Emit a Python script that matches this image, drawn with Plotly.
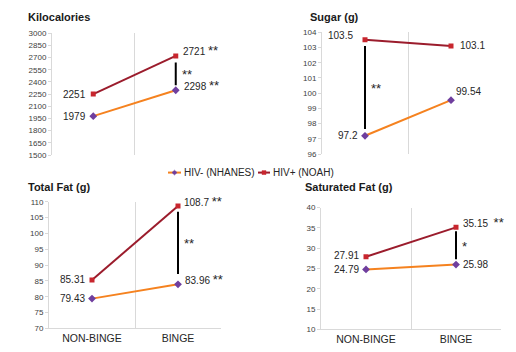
import plotly.graph_objects as go

# ---------------- data ----------------
categories = ["NON-BINGE", "BINGE"]
series_names = ["HIV- (NHANES)", "HIV+ (NOAH)"]

kcal_neg = [1979, 2298]
kcal_pos = [2251, 2721]
sugar_neg = [97.2, 99.54]
sugar_pos = [103.5, 103.1]
tfat_neg = [79.43, 83.96]
tfat_pos = [85.31, 108.7]
sfat_neg = [24.79, 25.98]
sfat_pos = [27.91, 35.15]

panel_titles = ["Kilocalories", "Sugar (g)", "Total Fat (g)", "Saturated Fat (g)"]
kcal_ticks = [1500, 1650, 1800, 1950, 2100, 2250, 2400, 2550, 2700, 2850, 3000]
sugar_ticks = [96, 97, 98, 99, 100, 101, 102, 103, 104]
tfat_ticks = [70, 75, 80, 85, 90, 95, 100, 105, 110]
sfat_ticks = [10, 15, 20, 25, 30, 35, 40]

# significance markers: category index, low, high, label
kcal_sig = (1, 2360, 2640, "**")
sugar_sig = (0, 97.65, 103.1, "**")
tfat_sig = (1, 87.2, 106.9, "**")
sfat_sig = (1, 27.3, 34.2, "*")

# per-point significance suffix for each category
kcal_suffix_neg = ["", "**"]
kcal_suffix_pos = ["", "**"]
sugar_suffix_neg = ["", ""]
sugar_suffix_pos = ["", ""]
tfat_suffix_neg = ["", "**"]
tfat_suffix_pos = ["", "**"]
sfat_suffix_neg = ["", ""]
sfat_suffix_pos = ["", "**"]

# ---------------- style ----------------
NEG_LINE = "#F5821F"
NEG_MARK = "#6F3E9E"
POS_LINE = "#9B1C2C"
POS_MARK = "#C8262E"
GRID = "#D9D9D9"
FONT = "Liberation Sans, Arial, sans-serif"
W, H = 516, 352


def star(s, gap="&nbsp;"):
    if not s:
        return ""
    return f"{gap}<span style='font-size:13px'>{s}</span>"


panels = [
    dict(neg=kcal_neg, pos=kcal_pos, ticks=kcal_ticks, sig=kcal_sig,
         sneg=kcal_suffix_neg, spos=kcal_suffix_pos,
         xd=[52 / W, 217 / W], yd=[1 - 155 / H, 1 - 30 / H], xlab=False,
         title_xy=(26, 13),
         lneg=[(-5, 0, "right"), (6, 5, "left")],
         lpos=[(-5, 0, "right"), (5, 5, "left")]),
    dict(neg=sugar_neg, pos=sugar_pos, ticks=sugar_ticks, sig=sugar_sig,
         sneg=sugar_suffix_neg, spos=sugar_suffix_pos,
         xd=[322 / W, 494 / W], yd=[1 - 154 / H, 1 - 29 / H], xlab=False,
         title_xy=(308, 13),
         lneg=[(-5, 0, "right"), (3, 9, "left")],
         lpos=[(-10, 4, "right"), (7, 0, "left")]),
    dict(neg=tfat_neg, pos=tfat_pos, ticks=tfat_ticks, sig=tfat_sig,
         sneg=tfat_suffix_neg, spos=tfat_suffix_pos,
         xd=[49 / W, 221 / W], yd=[1 - 333 / H, 1 - 203 / H], xlab=True,
         title_xy=(26, 188),
         lneg=[(-5, 0, "right"), (5, 5, "left")],
         lpos=[(-5, 0, "right"), (4, 4, "left")]),
    dict(neg=sfat_neg, pos=sfat_pos, ticks=sfat_ticks, sig=sfat_sig,
         sneg=sfat_suffix_neg, spos=sfat_suffix_pos,
         xd=[321 / W, 501 / W], yd=[1 - 334 / H, 1 - 209 / H], xlab=True,
         title_xy=(303, 188),
         lneg=[(-5, 0, "right"), (5, 0, "left")],
         lpos=[(-5, 1, "right"), (5, 5, "left")]),
]

fig = go.Figure()
annotations = []
shapes = []
layout = {}

for i, p in enumerate(panels):
    n = i + 1
    xa = "x" if n == 1 else f"x{n}"
    ya = "y" if n == 1 else f"y{n}"
    fig.add_trace(go.Scatter(
        x=categories, y=p["neg"], xaxis=xa, yaxis=ya, name=series_names[0],
        mode="lines+markers", line=dict(color=NEG_LINE, width=2),
        marker=dict(symbol="diamond", size=6, color=NEG_MARK),
        showlegend=False, hoverinfo="skip"))
    fig.add_trace(go.Scatter(
        x=categories, y=p["pos"], xaxis=xa, yaxis=ya, name=series_names[1],
        mode="lines+markers", line=dict(color=POS_LINE, width=2),
        marker=dict(symbol="square", size=5, color=POS_MARK),
        showlegend=False, hoverinfo="skip"))

    ticks = p["ticks"]
    layout[("xaxis" if n == 1 else f"xaxis{n}")] = dict(
        domain=p["xd"], anchor=ya, type="category", range=[-0.5, 1.5],
        tickson="boundaries", showgrid=True, gridcolor=GRID, gridwidth=1,
        showline=p["xlab"], linecolor=GRID, ticks="", zeroline=False,
        showticklabels=p["xlab"], tickfont=dict(family=FONT, size=10.5, color="#262626"),
        fixedrange=True)
    layout[("yaxis" if n == 1 else f"yaxis{n}")] = dict(
        domain=p["yd"], anchor=xa, range=[ticks[0], ticks[-1]],
        tickvals=ticks, ticktext=[str(t) for t in ticks],
        showgrid=False, zeroline=False, showline=True, linecolor=GRID,
        ticks="outside", ticklen=3, tickcolor=GRID,
        tickfont=dict(family=FONT, size=8, color="#404040"), fixedrange=True)

    # value labels
    for series, offs, suf in ((p["neg"], p["lneg"], p["sneg"]), (p["pos"], p["lpos"], p["spos"])):
        for j, v in enumerate(series):
            xs, ys, anc = offs[j]
            gap = "&nbsp;&nbsp;" if (n == 4 and suf[j]) else "&nbsp;"
            annotations.append(dict(
                x=categories[j], y=v, xref=xa, yref=ya, text=f"{v:g}{star(suf[j], gap)}",
                showarrow=False, xanchor=anc, yanchor="middle", xshift=xs, yshift=ys,
                font=dict(family=FONT, size=10, color="#262626")))

    # significance bar
    ci, lo, hi, lab = p["sig"]
    shapes.append(dict(type="line", xref=xa, yref=ya, x0=ci, x1=ci, y0=lo, y1=hi,
                       line=dict(color="black", width=2)))
    annotations.append(dict(
        x=ci, y=(lo + hi) / 2, xref=xa, yref=ya, text=star(lab, ""), showarrow=False,
        xanchor="left", yanchor="middle", xshift=4, yshift=-1,
        font=dict(family=FONT, size=10, color="#262626")))

    # panel title
    tx, ty = p["title_xy"]
    annotations.append(dict(
        x=tx / W, y=1 - ty / H, xref="paper", yref="paper", text=f"<b>{panel_titles[i]}</b>",
        showarrow=False, xanchor="left", yanchor="middle",
        font=dict(family=FONT, size=11, color="#1a1a1a")))

# ---------------- legend (drawn compactly in paper space) ----------------
legend_y = 1 - 173 / H
legend_items = [
    (168, 181, NEG_LINE, NEG_MARK, "diamond", series_names[0]),
    (258, 270, POS_LINE, POS_MARK, "square", series_names[1]),
]
for x0, x1, lc, mc, sym, name in legend_items:
    shapes.append(dict(type="line", xref="paper", yref="paper", x0=x0 / W, x1=x1 / W,
                       y0=legend_y, y1=legend_y, line=dict(color=lc, width=2)))
    cx = (x0 + x1) / 2
    if sym == "diamond":
        path = "M {a},{b} L {c},{d} L {a},{e} L {f},{d} Z".format(
            a=cx / W, b=legend_y + 2.5 / H, c=(cx + 2.5) / W, d=legend_y,
            e=legend_y - 2.5 / H, f=(cx - 2.5) / W)
    else:
        path = "M {a},{b} L {c},{b} L {c},{d} L {a},{d} Z".format(
            a=(cx - 2) / W, b=legend_y + 2 / H, c=(cx + 2) / W, d=legend_y - 2 / H)
    shapes.append(dict(type="path", xref="paper", yref="paper", path=path,
                       fillcolor=mc, line=dict(color=mc, width=0.5)))
    annotations.append(dict(
        x=(x1 + 1) / W, y=legend_y, xref="paper", yref="paper", text=name,
        showarrow=False, xanchor="left", yanchor="middle",
        font=dict(family=FONT, size=10, color="#262626")))

fig.update_layout(
    width=W, height=H, margin=dict(l=0, r=0, t=0, b=0),
    paper_bgcolor="white", plot_bgcolor="white", showlegend=False,
    annotations=annotations, shapes=shapes,
    **layout)

fig.write_html("out.html", config={"displayModeBar": False},
               post_script="document.body.style.margin='0';")
